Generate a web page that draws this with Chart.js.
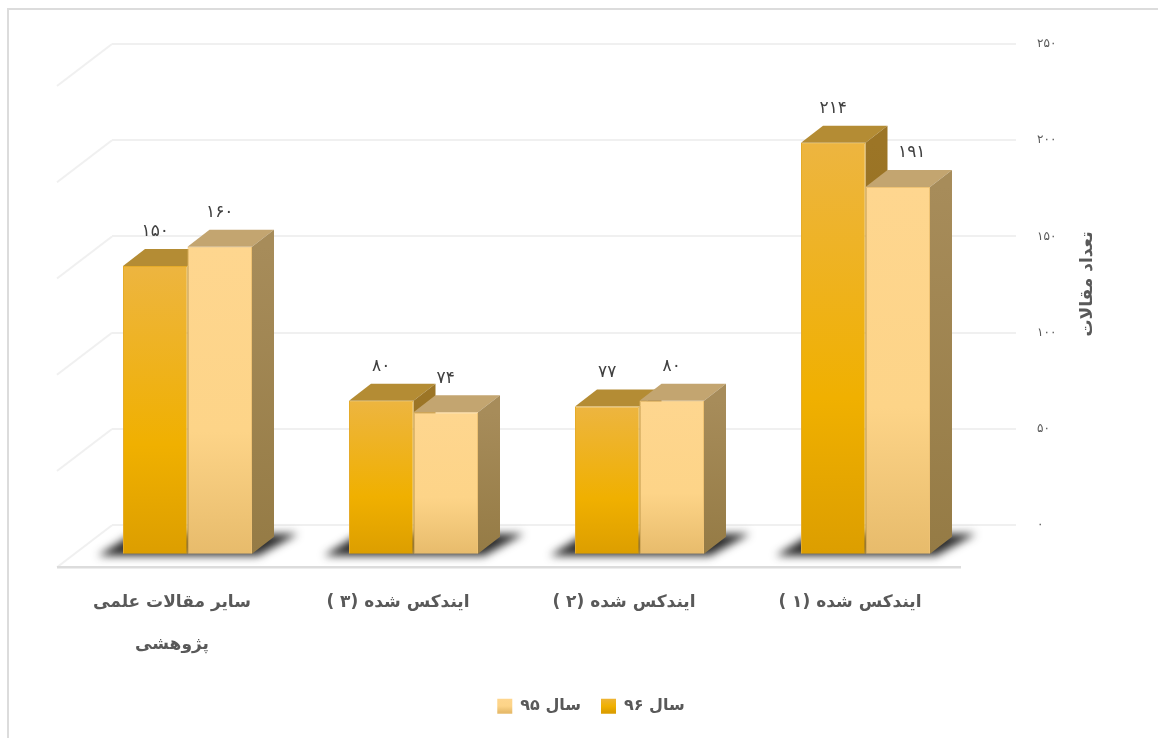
<!DOCTYPE html>
<html lang="fa"><head><meta charset="utf-8">
<style>html,body{margin:0;padding:0;background:#fff;overflow:hidden}canvas{display:block}</style>
<script src="https://cdn.jsdelivr.net/npm/chart.js@4"></script>
</head><body><canvas id="c" width="1158" height="738"></canvas>
<script>
const categories = [['سایر مقالات علمی','پژوهشی'],'ایندکس شده (۳ )','ایندکس شده (۲ )','ایندکس شده (۱ )'];
const seriesNames = ['سال ۹۶','سال ۹۵'];
const year96 = [150,80,77,214];
const year95 = [160,74,80,191];
const axisTitle = 'تعداد مقالات';
const FONT = '"DejaVu Sans"';
const fa = n => String(n).replace(/\d/g,d=>'۰۱۲۳۴۵۶۷۸۹'[d]);
const OFF = {x:-37.5,y:29.5};      // front plane relative to back wall
const DEPTH = {x:22,y:17};         // bar depth
const FLOOR = {x:55,y:42};         // floor depth
const LABEL_NUDGE = {'1-3':14};    // data label moved clear of the taller bar

const stops = [
  [[0,'#edb540'],[0.62,'#f0b000'],[1,'#dc9e00']],
  [[0,'#fed68f'],[0.6,'#fdd488'],[1,'#e7bb6b']]
];
const edgeCol = ['#e5ab2a','#eec274'];
const sideCol = [['#9c7526','#8a6a1e'],['#a78c5a','#957b45']];
const topCol = ['#b48c34','#c3a570'];
function grad(ctx,y1,y2,s){const g=ctx.createLinearGradient(0,y1,0,y2);s.forEach(p=>g.addColorStop(p[0],p[1]));return g;}
function fill(c){return ctx=>{
  if(ctx.dataIndex===undefined||!ctx.chart.scales.y) return c[1][1];
  const y=ctx.chart.scales.y;
  return grad(ctx.chart.ctx,y.getPixelForValue(ctx.raw),y.getPixelForValue(0),c);
};}

const scene = {
  id:'scene',
  beforeDraw(chart){
    const {ctx}=chart;
    ctx.save();
    ctx.fillStyle='#fff';ctx.fillRect(0,0,1158,738);
    ctx.fillStyle='#dcdcdc';
    ctx.fillRect(7,8,2,730);ctx.fillRect(7,8,1151,2);
    ctx.restore();
  },
  beforeDatasetsDraw(chart){
    const {ctx,chartArea:a,scales:{y}}=chart;
    ctx.save();
    ctx.strokeStyle='#f0f0f0';ctx.lineWidth=2;
    y.ticks.forEach(t=>{
      const p=y.getPixelForValue(t.value);
      ctx.beginPath();ctx.moveTo(a.left,p);ctx.lineTo(a.left-FLOOR.x,p+FLOOR.y);ctx.stroke();
    });
    const z=y.getPixelForValue(0);
    ctx.strokeStyle='#dcdcdc';ctx.lineWidth=2.5;
    ctx.beginPath();ctx.moveTo(a.left-FLOOR.x,z+FLOOR.y);ctx.lineTo(a.right-FLOOR.x,z+FLOOR.y);ctx.stroke();
    ctx.restore();
    ctx.save();
    ctx.translate(OFF.x,OFF.y);
    const m0=chart.getDatasetMeta(0).data, m1=chart.getDatasetMeta(1).data;
    // floor shadows
    m0.forEach((b,i)=>{
      const l=b.x-b.width/2, r=m1[i].x+m1[i].width/2, base=b.base;
      ctx.save();
      ctx.filter='blur(4px)';
      ctx.fillStyle='rgba(25,25,25,0.92)';
      ctx.beginPath();
      ctx.moveTo(l-25,base+2);ctx.lineTo(r+6,base+2);ctx.lineTo(r+46,base-20);ctx.lineTo(l+10,base-20);
      ctx.closePath();ctx.fill();
      ctx.restore();
    });
    // depth faces
    [m0,m1].forEach((m,k)=>m.forEach(b=>{
      const l=b.x-b.width/2, r=b.x+b.width/2, t=b.y, base=b.base;
      ctx.fillStyle=topCol[k];
      ctx.beginPath();ctx.moveTo(l,t);ctx.lineTo(l+DEPTH.x,t-DEPTH.y);ctx.lineTo(r+DEPTH.x,t-DEPTH.y);ctx.lineTo(r,t);ctx.closePath();ctx.fill();
      ctx.fillStyle=grad(ctx,t,base,[[0,sideCol[k][0]],[1,sideCol[k][1]]]);
      ctx.beginPath();ctx.moveTo(r,t);ctx.lineTo(r+DEPTH.x,t-DEPTH.y);ctx.lineTo(r+DEPTH.x,base-DEPTH.y);ctx.lineTo(r,base);ctx.closePath();ctx.fill();
    }));
    // front faces follow, still translated
  },
  afterDatasetsDraw(chart){
    const {ctx}=chart;
    ctx.restore();
    ctx.save();
    ctx.fillStyle='#404040';ctx.font='17px '+FONT;ctx.textAlign='center';ctx.textBaseline='middle';
    chart.data.datasets.forEach((d,k)=>chart.getDatasetMeta(k).data.forEach((b,i)=>{
      ctx.fillText(fa(d.data[i]),b.x+OFF.x+(LABEL_NUDGE[k+'-'+i]||0),b.y+OFF.y-34);
    }));
    ctx.restore();
    ctx.save();
    ctx.translate(1088,284);ctx.rotate(-Math.PI/2);
    ctx.fillStyle='#595959';ctx.font='bold 17px '+FONT;ctx.textAlign='center';ctx.textBaseline='middle';
    ctx.fillText(axisTitle,0,0);
    ctx.restore();
  }
};

new Chart(document.getElementById('c'),{
  type:'bar',
  data:{labels:categories,datasets:[
    {label:seriesNames[0],data:year96,backgroundColor:fill(stops[0]),borderColor:edgeCol[0],borderWidth:1},
    {label:seriesNames[1],data:year95,backgroundColor:fill(stops[1]),borderColor:edgeCol[1],borderWidth:1}
  ]},
  plugins:[scene],
  options:{
    responsive:false,animation:false,
    layout:{padding:{left:112,right:88,top:44,bottom:13.8}},
    datasets:{bar:{barPercentage:1,categoryPercentage:129/226}},
    plugins:{
      tooltip:{enabled:false},
      title:{display:false},
      legend:{
        position:'bottom',
        labels:{
          boxWidth:15,boxHeight:15,padding:20,color:'#595959',
          font:{family:FONT,size:16,weight:'bold'},
          generateLabels(chart){
            return seriesNames.map((n,i)=>({text:n,datasetIndex:i,
              fillStyle:grad(chart.ctx,697,712,stops[i]),strokeStyle:'transparent',lineWidth:0,fontColor:'#595959'}));
          },
          sort:(a,b)=>b.datasetIndex-a.datasetIndex
        }
      }
    },
    scales:{
      x:{
        grid:{display:false},border:{display:false},
        afterFit(s){s.height=153;},
        ticks:{autoSkip:false,maxRotation:0,minRotation:0,labelOffset:-53,padding:48,color:'#595959',
          font:{family:FONT,size:17,weight:'bold',lineHeight:2.47}}
      },
      y:{
        position:'right',min:0,max:250,
        border:{display:false},
        afterFit(s){s.width=54;},
        grid:{color:'#f0f0f0',lineWidth:2,tickLength:0,drawTicks:false},
        ticks:{stepSize:50,padding:21,crossAlign:'near',color:'#595959',font:{family:FONT,size:12},callback:v=>fa(v)}
      }
    }
  }
});
</script></body></html>
